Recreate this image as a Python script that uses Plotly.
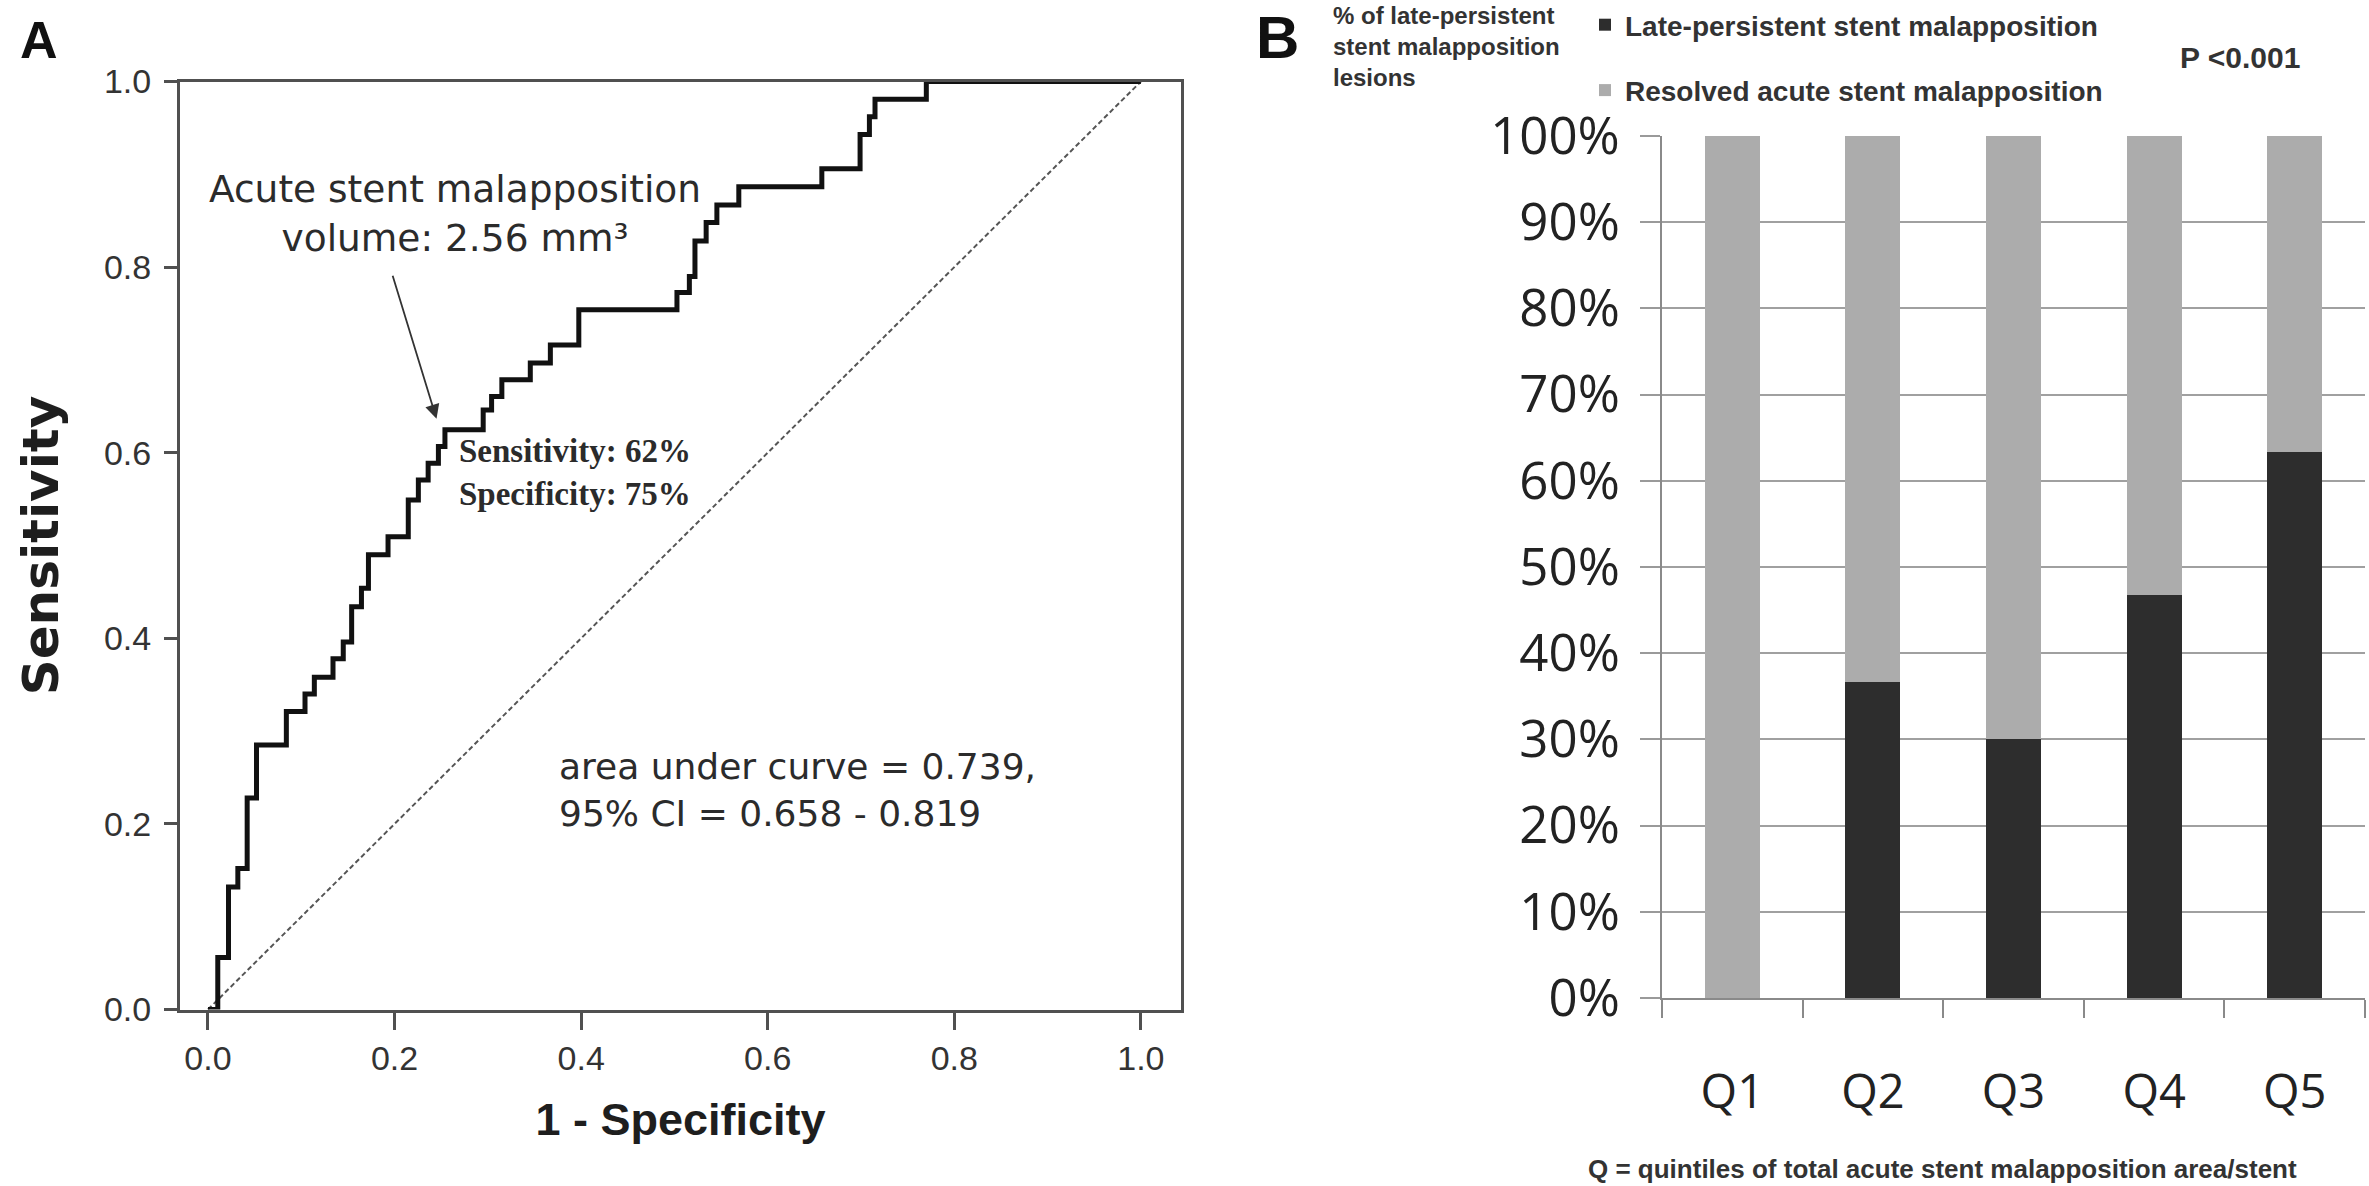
import plotly.graph_objects as go

# ---------------- Panel A data: ROC curve (1 - specificity, sensitivity) ----------------
roc_fpr = [0, 0.0105, 0.022, 0.032, 0.042, 0.052, 0.084, 0.104, 0.114, 0.134, 0.145,
           0.154, 0.1645, 0.172, 0.193, 0.2147, 0.2255, 0.236, 0.247, 0.254, 0.295,
           0.304, 0.315, 0.3455, 0.367, 0.3975, 0.5027, 0.516, 0.522, 0.534, 0.5455,
           0.569, 0.658, 0.699, 0.709, 0.715, 0.77, 1.0]
roc_tpr = [0, 0.056, 0.132, 0.152, 0.228, 0.285, 0.321, 0.340, 0.358, 0.378, 0.396,
           0.434, 0.454, 0.490, 0.5095, 0.549, 0.5707, 0.5887, 0.6066, 0.6246, 0.646,
           0.6605, 0.6785, 0.6966, 0.716, 0.754, 0.7726, 0.79, 0.828, 0.848, 0.867,
           0.8867, 0.906, 0.943, 0.962, 0.981, 1.0, 1.0]
reference_line = [0, 1]
roc_ticks = [0, 0.2, 0.4, 0.6, 0.8, 1.0]
cutoff_fpr = 0.25
cutoff_tpr = 0.62

# ---------------- Panel B data: stacked percentages by quintile ----------------
quintiles = ["Q1", "Q2", "Q3", "Q4", "Q5"]
late_persistent = [0, 36.7, 30.0, 46.7, 63.3]
resolved = [100, 63.3, 70.0, 53.3, 36.7]
pct_ticks = [0, 10, 20, 30, 40, 50, 60, 70, 80, 90, 100]
pct_labels = [f"{v}%" for v in pct_ticks]

W, H = 2369, 1186
ARIAL = "Arial, Liberation Sans, sans-serif"
WIDE = "DejaVu Sans, Verdana, sans-serif"
SERIF = "Times New Roman, Liberation Serif, serif"
OPEN = "Open Sans, Segoe UI, sans-serif"
TXT = "#2b2b2b"

def px_x(X):
    return X / W

def px_y(Y):
    return 1 - Y / H

fig = go.Figure()

# Panel A traces
fig.add_trace(go.Scatter(
    x=reference_line, y=reference_line, mode="lines",
    line=dict(color="#555555", width=2, dash="5px,3px"),
    xaxis="x", yaxis="y", showlegend=False, hoverinfo="skip"))
fig.add_trace(go.Scatter(
    x=roc_fpr, y=roc_tpr, mode="lines", line_shape="hv",
    line=dict(color="#111111", width=5),
    xaxis="x", yaxis="y", showlegend=False))

# Panel B traces
fig.add_trace(go.Bar(
    x=quintiles, y=late_persistent, name="Late-persistent stent malapposition",
    marker=dict(color="#2d2d2d", line=dict(width=0)),
    xaxis="x2", yaxis="y2", legendgroup="a"))
fig.add_trace(go.Bar(
    x=quintiles, y=resolved, name="Resolved acute stent malapposition",
    marker=dict(color="#acacac", line=dict(width=0)),
    xaxis="x2", yaxis="y2", legendgroup="b"))

axA = dict(showgrid=False, zeroline=False, showline=True, mirror=True,
           linecolor="#505050", linewidth=3, ticks="outside", tickwidth=2.5,
           tickcolor="#505050", tickvals=roc_ticks, tickformat=".1f",
           automargin=False,
           tickfont=dict(family=ARIAL, size=34, color="#333333"))

fig.update_layout(
    width=W, height=H,
    margin=dict(l=0, r=0, t=0, b=0, autoexpand=False),
    paper_bgcolor="white", plot_bgcolor="white",
    barmode="stack", bargap=0.61,
    xaxis=dict(axA, domain=[px_x(180), px_x(1181)], range=[-0.030, 1.043],
               ticklen=17, ticklabelstandoff=0, anchor="y",
               title=dict(text="<b>1 - Specificity</b>", standoff=28,
                          font=dict(family=ARIAL, size=45, color="#1e1e1e"))),
    yaxis=dict(axA, domain=[px_y(1009.5), px_y(81.5)], range=[0, 1],
               ticklen=13, ticklabelstandoff=6, anchor="x",
               title=dict(text="<b>Sensitivity</b>", standoff=30,
                          font=dict(family=WIDE, size=50, color="#1e1e1e"))),
    xaxis2=dict(domain=[px_x(1662), px_x(2365)], range=[-0.5, 4.5], type="category",
                anchor="y2", showline=True, linecolor="#8a8a8a", linewidth=2,
                ticks="outside", tickson="boundaries", ticklen=18, tickwidth=2,
                tickcolor="#8a8a8a", showgrid=False, zeroline=False,
                ticklabelstandoff=52, automargin=False,
                tickfont=dict(family=OPEN, size=47, color="#222222")),
    yaxis2=dict(domain=[px_y(998), px_y(136)], range=[0, 100], anchor="x2",
                tickvals=pct_ticks, ticktext=pct_labels,
                showline=True, linecolor="#8a8a8a", linewidth=2,
                ticks="outside", ticklen=20, tickwidth=2, tickcolor="#9a9a9a",
                showgrid=True, gridcolor="#a0a0a0", gridwidth=2, zeroline=False,
                ticklabelstandoff=10, automargin=False,
                tickfont=dict(family=OPEN, size=51, color="#222222")),
    legend=dict(x=px_x(1585), y=px_y(0), xanchor="left", yanchor="top",
                traceorder="grouped", tracegroupgap=26,
                bgcolor="rgba(0,0,0,0)",
                font=dict(family=ARIAL, size=28, color="#333333", weight="bold")),
    showlegend=True,
)

ann = []
ann.append(dict(text="<b>A</b>", x=px_x(18), y=px_y(40), xref="paper", yref="paper",
                xanchor="left", yanchor="middle", showarrow=False,
                font=dict(family=ARIAL, size=52, color="#111111")))
ann.append(dict(text="<b>B</b>", x=px_x(1254), y=px_y(37), xref="paper", yref="paper",
                xanchor="left", yanchor="middle", showarrow=False,
                font=dict(family=ARIAL, size=60, color="#111111")))
ann.append(dict(text="<b>% of late-persistent<br>stent malapposition<br>lesions</b>",
                x=px_x(1331), y=px_y(47), xref="paper", yref="paper",
                xanchor="left", yanchor="middle", align="left", showarrow=False,
                font=dict(family=ARIAL, size=24, color="#333333")))
ann.append(dict(text="<b>P &lt;0.001</b>", x=px_x(2240), y=px_y(57), xref="paper",
                yref="paper", xanchor="center", yanchor="middle", showarrow=False,
                font=dict(family=ARIAL, size=30, color="#333333")))
ann.append(dict(text="<b>Q = quintiles of total acute stent malapposition area/stent</b>",
                x=px_x(1942), y=px_y(1169), xref="paper", yref="paper",
                xanchor="center", yanchor="middle", showarrow=False,
                font=dict(family=ARIAL, size=26, color="#333333")))
ann.append(dict(text="Acute stent malapposition<br>volume: 2.56 mm³",
                x=px_x(455), y=px_y(214), xref="paper", yref="paper",
                xanchor="center", yanchor="middle", align="center", showarrow=False,
                font=dict(family=WIDE, size=37.5, color=TXT)))
ann.append(dict(text="", x=cutoff_fpr, y=cutoff_tpr, xref="x", yref="y",
                showarrow=True, ax=-49, ay=-160, axref="pixel", ayref="pixel",
                arrowhead=2, arrowsize=1.6, arrowwidth=1.8, arrowcolor="#333333",
                standoff=16))
ann.append(dict(text="<b>Sensitivity: 62%<br>Specificity: 75%</b>",
                x=px_x(457), y=px_y(472), xref="paper", yref="paper",
                xanchor="left", yanchor="middle", align="left", showarrow=False,
                font=dict(family=SERIF, size=33, color=TXT)))
ann.append(dict(text="area under curve = 0.739,<br>95% CI = 0.658 - 0.819",
                x=px_x(557), y=px_y(790), xref="paper", yref="paper",
                xanchor="left", yanchor="middle", align="left", showarrow=False,
                font=dict(family=WIDE, size=36, color=TXT)))
fig.update_layout(annotations=ann)

fig.write_html("out.html")
